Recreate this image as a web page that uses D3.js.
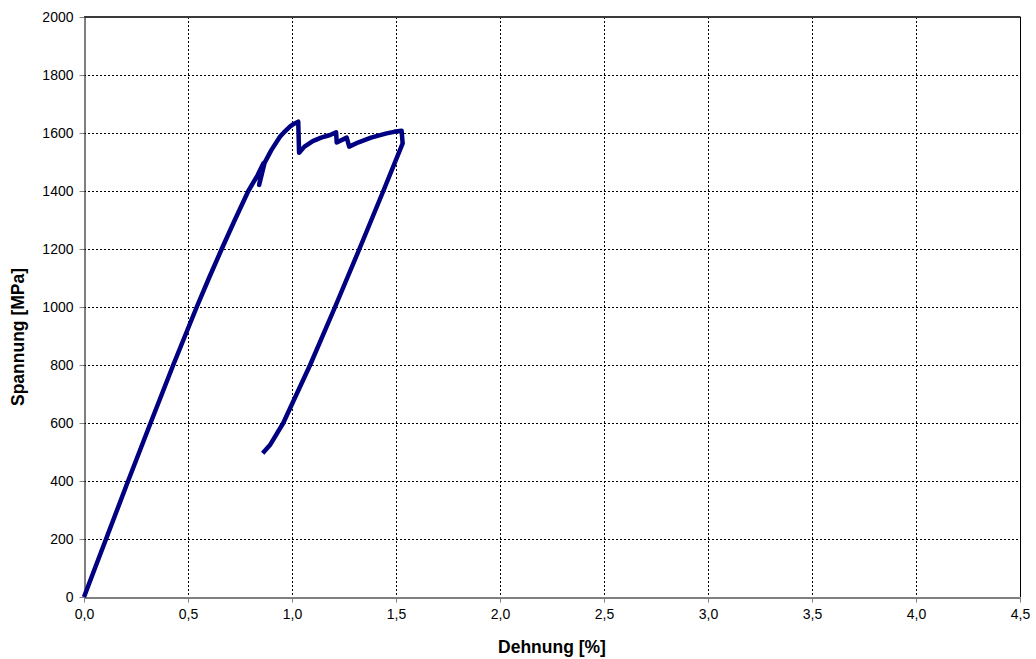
<!DOCTYPE html>
<html>
<head>
<meta charset="utf-8">
<script src="https://cdn.jsdelivr.net/npm/d3@7"></script>
<style>
  html, body { margin: 0; padding: 0; background: #fff; }
  svg { display: block; font-family: "Liberation Sans", Arial, sans-serif; }
</style>
</head>
<body>
<svg id="chart" width="1036" height="659"></svg>
<script>
// Stress-strain curve: strain in %, stress in MPa
const strain = [0, 0.106, 0.212, 0.32, 0.429, 0.542, 0.601, 0.662, 0.725, 0.79, 0.835, 0.862, 0.842, 0.868,
  0.9, 0.942, 0.965, 0.99, 1.01, 1.03, 1.034, 1.06, 1.1, 1.14, 1.183, 1.212, 1.215, 1.263, 1.275,
  1.32, 1.38, 1.45, 1.49, 1.527,
  1.532, 1.439, 1.324, 1.207, 1.087, 0.958, 0.894, 0.859];
const stress = [0, 200, 400, 600, 800, 1000, 1100, 1200, 1300, 1400, 1455, 1495, 1421, 1497,
  1540, 1587, 1605, 1622, 1632, 1639, 1532, 1553, 1572, 1584, 1593, 1602, 1567, 1584, 1553,
  1568, 1584, 1598, 1604, 1608,
  1564, 1400, 1200, 1000, 800, 600, 524, 496];

const xTicks = [0, 0.5, 1.0, 1.5, 2.0, 2.5, 3.0, 3.5, 4.0, 4.5];
const yTicks = [0, 200, 400, 600, 800, 1000, 1200, 1400, 1600, 1800, 2000];
const xTitle = "Dehnung [%]";
const yTitle = "Spannung [MPa]";

const svg = d3.select("#chart");
const m = { left: 84, top: 17, right: 1020, bottom: 597 };

const x = d3.scaleLinear().domain([0, 4.5]).range([m.left, m.right]);
const y = d3.scaleLinear().domain([0, 2000]).range([m.bottom, m.top]);
const fmt = d3.format(".1f");

// grid
const grid = svg.append("g").attr("stroke", "#000").attr("stroke-width", 1)
  .attr("stroke-dasharray", "2,2").attr("shape-rendering", "crispEdges");
grid.selectAll("line.h").data(yTicks.filter(d => d > 0 && d < 2000)).join("line")
  .attr("x1", m.left).attr("x2", m.right)
  .attr("y1", d => Math.round(y(d)) + 0.5).attr("y2", d => Math.round(y(d)) + 0.5);
grid.selectAll("line.v").data(xTicks.filter(d => d > 0 && d < 4.5)).join("line")
  .attr("y1", m.top).attr("y2", m.bottom)
  .attr("x1", d => Math.round(x(d)) + 0.5).attr("x2", d => Math.round(x(d)) + 0.5);

// plot frame
svg.append("line").attr("x1", m.left).attr("x2", m.right + 0.5)
  .attr("y1", m.top).attr("y2", m.top).attr("stroke", "#3a3a3a").attr("stroke-width", 2);
svg.append("line").attr("x1", m.right + 0.5).attr("x2", m.right + 0.5)
  .attr("y1", m.top).attr("y2", m.bottom).attr("stroke", "#000").attr("stroke-width", 1);

// axes
const xAxis = d3.axisBottom(x).tickValues(xTicks).tickFormat(d => fmt(d).replace(".", ","))
  .tickSizeInner(5).tickSizeOuter(0).tickPadding(5);
const yAxis = d3.axisLeft(y).tickValues(yTicks).tickFormat(d3.format("d"))
  .tickSizeInner(5).tickSizeOuter(0).tickPadding(6);

const gx = svg.append("g").attr("transform", `translate(0,${m.bottom + 0.5})`).call(xAxis);
const gy = svg.append("g").attr("transform", `translate(${m.left + 0.5},0)`).call(yAxis);
[gx, gy].forEach(g => {
  g.select(".domain").attr("stroke", "#000").attr("stroke-width", 1);
  g.selectAll(".tick line").attr("stroke", "#808080");
  g.selectAll(".tick text").attr("font-size", 14).attr("fill", "#000")
    .attr("font-family", "'Liberation Sans', Arial, sans-serif");
});
gx.selectAll(".tick text").attr("dy", "0.85em");

// axis titles
svg.append("text").attr("x", 552).attr("y", 653).attr("text-anchor", "middle")
  .attr("font-size", 17.5).attr("font-weight", "bold").text(xTitle);
svg.append("text").attr("transform", "translate(24,337) rotate(-90)").attr("text-anchor", "middle")
  .attr("font-size", 17.5).attr("font-weight", "bold").text(yTitle);

// curve
const pts = strain.map((s, i) => [s, stress[i]]);
const line = d3.line().x(d => x(d[0])).y(d => y(d[1]));
svg.append("path").datum(pts).attr("d", line)
  .attr("fill", "none").attr("stroke", "#000080").attr("stroke-width", 4.5)
  .attr("stroke-linejoin", "round").attr("stroke-linecap", "butt");
</script>
</body>
</html>
